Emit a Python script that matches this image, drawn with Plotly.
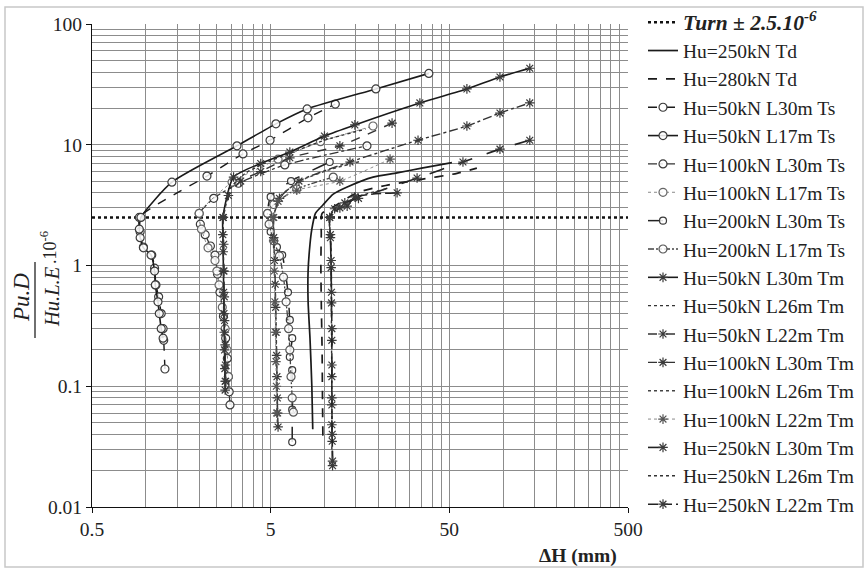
import plotly.graph_objects as go

# ---- data: ΔH (mm) and Pu.D/(Hu.L.E) x 1e-6, one pair of lists per series ----
turn_x = [0.5, 500]
turn_y = [2.5, 2.5]

td250_x = [8.6, 8.5, 8.3, 8.1, 8.1, 8.3, 8.5, 8.9, 9.8, 11.2, 13.4, 18.7, 25.5, 35.0, 51.7]
td250_y = [0.044, 0.1, 0.25, 0.5, 0.9, 1.5, 2.0, 2.7, 3.17, 3.9, 4.47, 5.4, 5.84, 6.4, 7.1]

td280_x = [9.8, 9.75, 9.7, 9.6, 9.55, 9.6, 9.7, 11.2, 15.2, 22.0, 33.0, 55.2, 71.3]
td280_y = [0.039, 0.08, 0.2, 0.5, 1.0, 1.8, 2.7, 3.05, 4.0, 4.6, 5.1, 5.8, 6.4]

ts50_l30_x = [1.28, 1.26, 1.25, 1.22, 1.18, 1.14, 1.12, 1.08, 0.97, 0.93, 0.92, 2.2, 3.5, 4.96, 8.09, 11.5]
ts50_l30_y = [0.139, 0.24, 0.3, 0.4, 0.55, 0.69, 0.95, 1.22, 1.42, 1.9, 2.5, 5.5, 8.4, 10.9, 16.7, 21.7]

ts50_l17_x = [1.25, 1.22, 1.19, 1.17, 1.13, 1.12, 1.07, 0.97, 0.93, 0.92, 0.94, 1.40, 3.24, 5.35, 8.0, 19.4, 38.4]
ts50_l17_y = [0.25, 0.3, 0.4, 0.5, 0.69, 0.9, 1.22, 1.4, 1.7, 2.0, 2.5, 4.9, 9.8, 14.9, 19.8, 29.0, 39.0]

ts100_l30_x = [2.96, 2.93, 2.9, 2.86, 2.8, 2.72, 2.6, 2.52, 2.44, 2.3, 2.15, 2.02, 1.99, 2.4, 3.3, 6.0, 17.3]
ts100_l30_y = [0.07, 0.09, 0.12, 0.17, 0.25, 0.38, 0.6, 0.85, 1.22, 1.45, 1.8, 2.2, 2.7, 3.6, 4.8, 6.8, 9.8]

ts100_l17_x = [2.9, 2.85, 2.78, 2.68, 2.57, 2.5, 2.44, 2.23, 2.05, 1.99, 3.04, 5.5, 9.5, 18.7]
ts100_l17_y = [0.12, 0.2, 0.3, 0.45, 0.69, 0.9, 1.1, 1.4, 2.0, 2.7, 4.9, 7.6, 10.6, 14.3]

ts200_l30_x = [6.6, 6.6, 6.6, 6.4, 6.6, 6.4, 6.25, 5.8, 5.42, 5.0, 4.8, 5.0, 6.5, 10.7]
ts200_l30_y = [0.0345, 0.064, 0.136, 0.175, 0.25, 0.354, 0.6, 1.22, 1.42, 1.9, 2.7, 3.7, 5.0, 7.2]

ts200_l17_x = [6.7, 6.6, 6.5, 6.4, 6.3, 6.1, 5.9, 5.6, 5.2, 4.9, 4.8, 5.2, 7.0, 11.2]
ts200_l17_y = [0.061, 0.08, 0.12, 0.2, 0.3, 0.5, 0.8, 1.2, 1.6, 2.2, 2.7, 3.2, 4.3, 5.4]

tm50_l30_x = [2.78, 2.78, 2.77, 2.76, 2.75, 2.74, 2.73, 2.72, 2.71, 2.7, 2.7, 3.1, 4.4, 6.4, 10.0, 14.8, 34.2, 62.7, 96.0, 141.0]
tm50_l30_y = [0.093, 0.11, 0.14, 0.2, 0.28, 0.4, 0.6, 0.9, 1.3, 1.8, 2.5, 5.4, 7.0, 8.7, 11.8, 14.6, 22.2, 29.0, 36.4, 43.0]

tm50_l26_x = [2.8, 2.79, 2.77, 2.75, 2.73, 2.72, 2.72, 3.0, 3.6, 4.6, 6.4, 10.0, 17.0]
tm50_l26_y = [0.1, 0.15, 0.25, 0.45, 0.8, 1.4, 2.5, 4.4, 5.8, 7.0, 8.5, 10.9, 13.5]

tm50_l22_x = [2.8, 2.79, 2.78, 2.76, 2.75, 2.74, 2.73, 2.72, 2.9, 3.4, 4.4, 6.4, 12.2, 23.9]
tm50_l22_y = [0.11, 0.15, 0.22, 0.35, 0.55, 0.9, 1.5, 2.5, 3.8, 5.0, 6.0, 7.8, 9.8, 15.1]

tm100_l30_x = [5.5, 5.47, 5.45, 5.42, 5.4, 5.37, 5.33, 5.3, 5.25, 5.2, 5.2, 5.6, 7.2, 13.9, 33.4, 62.7, 96.0, 141.0]
tm100_l30_y = [0.046, 0.06, 0.08, 0.12, 0.18, 0.28, 0.45, 0.7, 1.1, 1.7, 2.5, 3.6, 5.0, 7.2, 10.9, 14.3, 18.3, 22.2]

tm100_l26_x = [5.45, 5.43, 5.4, 5.36, 5.32, 5.28, 5.22, 5.2, 5.6, 7.5, 11.0, 16.0]
tm100_l26_y = [0.05, 0.09, 0.16, 0.3, 0.55, 1.0, 1.7, 2.5, 3.7, 5.1, 6.3, 7.3]

tm100_l22_x = [5.4, 5.38, 5.35, 5.32, 5.28, 5.24, 5.2, 5.15, 5.5, 7.0, 12.2, 23.3]
tm100_l22_y = [0.06, 0.1, 0.16, 0.28, 0.5, 0.9, 1.6, 2.5, 3.4, 4.2, 5.0, 7.6]

tm250_l30_x = [11.1, 11.05, 11.0, 11.0, 11.0, 11.0, 10.95, 10.9, 10.8, 10.7, 11.4, 13.0, 15.5, 33.0, 59.6, 96.0, 141.0]
tm250_l30_y = [0.022, 0.035, 0.048, 0.07, 0.12, 0.24, 0.49, 0.96, 1.7, 2.5, 2.95, 3.3, 3.6, 5.3, 7.2, 9.2, 10.9]

tm250_l26_x = [11.0, 11.0, 10.98, 10.95, 10.9, 10.85, 10.7, 11.6, 13.5, 17.0, 22.0]
tm250_l26_y = [0.03, 0.06, 0.13, 0.3, 0.7, 1.5, 2.5, 3.0, 3.4, 3.9, 4.3]

tm250_l22_x = [11.1, 11.05, 11.0, 11.0, 11.0, 10.95, 10.9, 10.8, 10.7, 12.2, 13.4, 14.8, 25.5]
tm250_l22_y = [0.024, 0.04, 0.08, 0.15, 0.3, 0.6, 1.1, 1.8, 2.5, 3.0, 3.1, 3.7, 4.0]

x_major = [0.5, 5, 50, 500]
x_major_text = ["0.5", "5", "50", "500"]
y_major = [0.01, 0.1, 1, 10, 100]
y_major_text = ["0.01", "0.1", "1", "10", "100"]

# Excel-style log grid: multiples of the base inside each decade
x_minor = [0.5 * k * 10 ** d for d in range(3) for k in range(2, 10)]
y_minor = [k * 10.0 ** d for d in range(-2, 2) for k in range(2, 10)]

SERIF = "Liberation Serif"
INK = "#1a1a1a"

fig = go.Figure()

def add(name, xs, ys, dash, color=INK, width=1.5, marker=None, msize=8, mcolor="#3a3a3a"):
    mode = "lines+markers" if marker else "lines"
    kw = dict(x=xs, y=ys, name=name, mode=mode,
              line=dict(color=color, width=width, dash=dash, shape="spline", smoothing=0.6))
    if marker == "circle":
        kw["marker"] = dict(symbol="circle", size=msize, color="rgba(255,255,255,0.85)",
                            line=dict(color=mcolor, width=1.2))
    elif marker:
        kw["marker"] = dict(symbol=marker, size=msize, color=mcolor,
                            line=dict(color=mcolor, width=1.2))
    fig.add_trace(go.Scatter(**kw))

fig.add_trace(go.Scatter(x=turn_x, y=turn_y, mode="lines",
                         name='<span style="font-size:21.5px"><b><i>Turn ± 2.5.10<sup>-6</sup></i></b></span>',
                         line=dict(color="#111111", width=2.6, dash="dot")))

add("Hu=250kN Td", td250_x, td250_y, "solid", width=1.7)
add("Hu=280kN Td", td280_x, td280_y, "dash", width=1.7)
add("Hu=50kN L30m Ts", ts50_l30_x, ts50_l30_y, "dash", width=1.4, marker="circle")
add("Hu=50kN L17m Ts", ts50_l17_x, ts50_l17_y, "solid", width=1.6, marker="circle")
add("Hu=100kN L30m Ts", ts100_l30_x, ts100_l30_y, "dashdot", color="#333333", width=1.3, marker="circle")
add("Hu=100kN L17m Ts", ts100_l17_x, ts100_l17_y, "dot", color="#8a8a8a", width=1.0, marker="circle", mcolor="#666666")
add("Hu=200kN L30m Ts", ts200_l30_x, ts200_l30_y, "longdash", color="#222222", width=1.5, marker="circle", msize=7)
add("Hu=200kN L17m Ts", ts200_l17_x, ts200_l17_y, "6px,2px,2px,2px,2px,2px", color="#444444", width=1.3, marker="circle", mcolor="#555555")
add("Hu=50kN L30m Tm", tm50_l30_x, tm50_l30_y, "solid", width=1.6, marker="asterisk-open")
add("Hu=50kN L26m Tm", tm50_l26_x, tm50_l26_y, "dot", color="#333333", width=1.4)
add("Hu=50kN L22m Tm", tm50_l22_x, tm50_l22_y, "dash", color="#333333", width=1.4, marker="asterisk-open")
add("Hu=100kN L30m Tm", tm100_l30_x, tm100_l30_y, "dashdot", color="#333333", width=1.4, marker="asterisk-open")
add("Hu=100kN L26m Tm", tm100_l26_x, tm100_l26_y, "dot", color="#444444", width=1.4)
add("Hu=100kN L22m Tm", tm100_l22_x, tm100_l22_y, "dot", color="#8a8a8a", width=1.0, marker="asterisk-open", mcolor="#555555")
add("Hu=250kN L30m Tm", tm250_l30_x, tm250_l30_y, "longdash", color="#222222", width=1.6, marker="asterisk-open")
add("Hu=250kN L26m Tm", tm250_l26_x, tm250_l26_y, "dot", color="#333333", width=1.4)
add("Hu=250kN L22m Tm", tm250_l22_x, tm250_l22_y, "10px,4px", color="#222222", width=1.5, marker="asterisk-open")

# plot area in pixels: x 92..628, y 24..507
L, R, T, B = 92, 628, 24, 507
W, H = R - L, B - T

def px(xp):
    return (xp - L) / W

def py(yp):
    return (B - yp) / H

GRID = "#8c8c8c"
tickfont = dict(family=SERIF, size=19.5, color="#222222")

fig.update_xaxes(type="log", range=[-0.30103, 2.69897],
                 tickvals=x_major, ticktext=x_major_text, tickfont=tickfont,
                 ticks="outside", ticklen=5, tickcolor="#111111",
                 showline=True, linecolor="#111111", linewidth=1, mirror=False,
                 showgrid=True, gridcolor=GRID, gridwidth=1, zeroline=False,
                 minor=dict(tickvals=x_minor, showgrid=True, gridcolor=GRID, gridwidth=1, ticks=""))
fig.update_yaxes(type="log", range=[-2, 2],
                 tickvals=y_major, ticktext=y_major_text, tickfont=tickfont,
                 ticks="outside", ticklen=5, tickcolor="#111111",
                 showline=True, linecolor="#111111", linewidth=1, mirror=False,
                 showgrid=True, gridcolor=GRID, gridwidth=1, zeroline=False,
                 minor=dict(tickvals=y_minor, showgrid=True, gridcolor=GRID, gridwidth=1, ticks=""))

annotations = [
    dict(text="<i>Pu.D</i>", x=px(21), y=py(298), textangle=-90,
         font=dict(family=SERIF, size=23, color="#222222")),
    dict(text="<i>Hu.L.E</i>", x=px(52), y=py(297), textangle=-90,
         font=dict(family=SERIF, size=20.5, color="#222222")),
    dict(text=".10<sup>-6</sup>", x=px(49), y=py(248), textangle=-90,
         font=dict(family=SERIF, size=18, color="#222222")),
    dict(text="<b>ΔH (mm)</b>", x=px(578), y=py(556),
         font=dict(family=SERIF, size=19.5, color="#222222")),
]
for a in annotations:
    a.update(xref="paper", yref="paper", xanchor="center", yanchor="middle", showarrow=False)

shapes = [
    # fraction bar of the y title
    dict(type="line", xref="paper", yref="paper", x0=px(35), x1=px(35), y0=py(262), y1=py(338),
         line=dict(color="#222222", width=1.3)),
    # chart frame
    dict(type="rect", xref="paper", yref="paper", x0=px(5), x1=px(863), y0=py(7), y1=py(567),
         line=dict(color="#c8c8c8", width=1.5), layer="below"),
]

fig.update_layout(
    width=866, height=570,
    margin=dict(l=L, r=866 - R, t=T, b=570 - B, pad=0, autoexpand=False),
    paper_bgcolor="white", plot_bgcolor="white",
    font=dict(family=SERIF, color="#222222"),
    showlegend=True,
    legend=dict(x=px(643), y=py(3), xanchor="left", yanchor="top",
                font=dict(family=SERIF, size=19.5, color="#222222"),
                bgcolor="rgba(0,0,0,0)", itemwidth=30, tracegroupgap=0,
                maxheight=560),
    annotations=annotations, shapes=shapes,
)

fig.write_html("out.html")
